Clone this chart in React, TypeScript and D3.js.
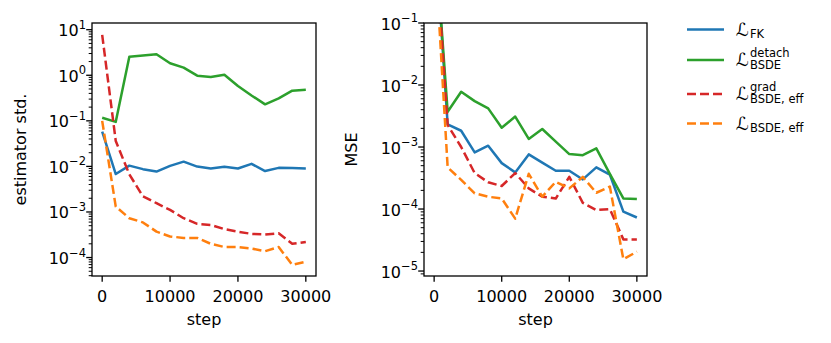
import React, { useEffect, useRef } from 'react'
import * as d3 from 'd3'

// training steps (x values shared by all curves)
const steps = [0, 2000, 4000, 6000, 8000, 10000, 12000, 14000, 16000, 18000, 20000, 22000, 24000, 26000, 28000, 30000]

// left panel: estimator std.
const stdFK = [0.058, 0.0068, 0.0104, 0.0087, 0.0077, 0.0103, 0.0127, 0.0099, 0.009, 0.0098, 0.009, 0.0114, 0.0079, 0.0093, 0.0092, 0.009]
const stdDetach = [0.117, 0.095, 2.55, 2.72, 2.9, 1.83, 1.47, 0.98, 0.92, 1.03, 0.58, 0.36, 0.23, 0.31, 0.46, 0.48]
const stdGrad = [7.7, 0.036, 0.0067, 0.0022, 0.00156, 0.00111, 0.00073, 0.00055, 0.00052, 0.00042, 0.00037, 0.00033, 0.00032, 0.00034, 0.0002, 0.00022]
const stdEff = [0.1, 0.00131, 0.00073, 0.00059, 0.00037, 0.00029, 0.00027, 0.00027, 0.0002, 0.00017, 0.00017, 0.000158, 0.000138, 0.00017, 0.000069, 0.000081]

// right panel: MSE (first points lie above the plotted range)
const mseFK = [4.5, 0.00232, 0.00183, 0.00082, 0.00105, 0.00055, 0.00039, 0.00076, 0.00056, 0.000415, 0.000415, 0.0003, 0.00047, 0.00036, 0.000091, 0.000073]
const mseDetach = [4, 0.0037, 0.0078, 0.0055, 0.0042, 0.00205, 0.0031, 0.00135, 0.00195, 0.00122, 0.00077, 0.00074, 0.00095, 0.00037, 0.000148, 0.000145]
const mseGrad = [4, 0.00227, 0.001, 0.00038, 0.00027, 0.000235, 0.00038, 0.000215, 0.000158, 0.000148, 0.00033, 0.000126, 0.0000964, 0.0001, 0.0000324, 0.0000324]
const mseEff = [2.5, 0.00047, 0.000295, 0.000179, 0.000158, 0.000148, 0.00007, 0.00037, 0.000158, 0.000275, 0.000215, 0.00033, 0.000183, 0.00023, 0.0000155, 0.0000205]

const xTicks = [0, 10000, 20000, 30000]
const stdDecades = [1, 0, -1, -2, -3, -4]
const mseDecades = [-1, -2, -3, -4, -5]

const FONT = 'DejaVu Sans, sans-serif'
const series = [
  { color: '#1f77b4', dash: null },
  { color: '#2ca02c', dash: null },
  { color: '#d62728', dash: '9,4' },
  { color: '#ff7f0e', dash: '9,4' },
]

function drawPanel(svg, opts) {
  const { left, right, top, bottom, yDomain, decades, data, ylabel, ylabelX, id } = opts
  const x = d3.scaleLinear().domain([-1500, 31500]).range([left, right])
  const y = d3.scaleLog().domain(yDomain).range([bottom, top])

  svg.append('clipPath').attr('id', id)
    .append('rect').attr('x', left).attr('y', top).attr('width', right - left).attr('height', bottom - top)

  const line = d3.line().x((d) => x(d[0])).y((d) => y(d[1]))
  const g = svg.append('g').attr('clip-path', 'url(#' + id + ')')
  data.forEach((vals, i) => {
    g.append('path')
      .datum(steps.map((s, j) => [s, vals[j]]))
      .attr('d', line)
      .attr('fill', 'none')
      .attr('stroke', series[i].color)
      .attr('stroke-width', 2.5)
      .attr('stroke-dasharray', series[i].dash)
      .attr('stroke-linejoin', 'round')
  })

  // frame
  svg.append('rect').attr('x', left).attr('y', top).attr('width', right - left).attr('height', bottom - top)
    .attr('fill', 'none').attr('stroke', '#000').attr('stroke-width', 1.3)

  // x ticks
  xTicks.forEach((t) => {
    svg.append('line').attr('x1', x(t)).attr('x2', x(t)).attr('y1', bottom).attr('y2', bottom + 5.8)
      .attr('stroke', '#000').attr('stroke-width', 1.3)
    svg.append('text').attr('x', x(t)).attr('y', bottom + 25.5).attr('text-anchor', 'middle')
      .attr('font-family', FONT).attr('font-size', 16).text(t)
  })
  svg.append('text').attr('x', (left + right) / 2).attr('y', 325).attr('text-anchor', 'middle')
    .attr('font-family', FONT).attr('font-size', 16).text('step')

  // y ticks (major + minor)
  const [lo, hi] = yDomain
  for (let k = Math.floor(Math.log10(lo)); k <= Math.ceil(Math.log10(hi)); k++) {
    for (let m = 2; m <= 9; m++) {
      const v = m * Math.pow(10, k)
      if (v < lo || v > hi) continue
      svg.append('line').attr('x1', left).attr('x2', left - 3.3).attr('y1', y(v)).attr('y2', y(v))
        .attr('stroke', '#000').attr('stroke-width', 1)
    }
  }
  decades.forEach((k) => {
    const yy = y(Math.pow(10, k))
    svg.append('line').attr('x1', left).attr('x2', left - 5.8).attr('y1', yy).attr('y2', yy)
      .attr('stroke', '#000').attr('stroke-width', 1.3)
    const txt = svg.append('text').attr('x', left - 6).attr('y', yy + 6.5).attr('text-anchor', 'end')
      .attr('font-family', FONT).attr('font-size', 16)
    txt.append('tspan').text('10')
    txt.append('tspan').attr('dy', -7.5).attr('font-size', 11.5).text(k < 0 ? '\u2212' + -k : String(k))
  })

  svg.append('text')
    .attr('transform', 'translate(' + ylabelX + ',' + (top + bottom) / 2 + ') rotate(-90)')
    .attr('text-anchor', 'middle').attr('font-family', FONT).attr('font-size', 16).text(ylabel)
}

function drawLegend(svg) {
  const rows = [
    { ly: 29.5, base: 36, sub: 'FK', sup: null },
    { ly: 60, base: 66, sub: 'BSDE', sup: 'detach' },
    { ly: 94, base: 100, sub: 'BSDE, eff', sup: 'grad' },
    { ly: 123.5, base: 129.5, sub: 'BSDE, eff', sup: null },
  ]
  rows.forEach((r, i) => {
    svg.append('line').attr('x1', 687).attr('x2', 724).attr('y1', r.ly).attr('y2', r.ly)
      .attr('stroke', series[i].color).attr('stroke-width', 2.5).attr('stroke-dasharray', series[i].dash)
    svg.append('text').attr('x', 736).attr('y', r.base).attr('font-family', FONT).attr('font-size', 18)
      .text('\u2112')
    svg.append('text').attr('x', 750).attr('y', r.base + (r.sup ? 3 : 2)).attr('font-family', FONT)
      .attr('font-size', 11.5).text(r.sub)
    if (r.sup) {
      svg.append('text').attr('x', 750).attr('y', r.base - 9.5).attr('font-family', FONT)
        .attr('font-size', 11.5).text(r.sup)
    }
  })
}

export default function App() {
  const ref = useRef(null)
  useEffect(() => {
    const svg = d3.select(ref.current)
    svg.selectAll('*').remove()
    drawPanel(svg, {
      id: 'clipL', left: 92, right: 316, top: 23, bottom: 276,
      yDomain: [Math.pow(10, -4.405), Math.pow(10, 1.147)], decades: stdDecades,
      data: [stdFK, stdDetach, stdGrad, stdEff], ylabel: 'estimator std.', ylabelX: 26,
    })
    drawPanel(svg, {
      id: 'clipR', left: 424, right: 647, top: 23, bottom: 276,
      yDomain: [Math.pow(10, -5.08), 0.1], decades: mseDecades,
      data: [mseFK, mseDetach, mseGrad, mseEff], ylabel: 'MSE', ylabelX: 357,
    })
    drawLegend(svg)
  }, [])
  return (
    <svg ref={ref} width={831} height={343}
      style={{ position: 'absolute', left: 0, top: 0, background: '#fff' }} />
  )
}
